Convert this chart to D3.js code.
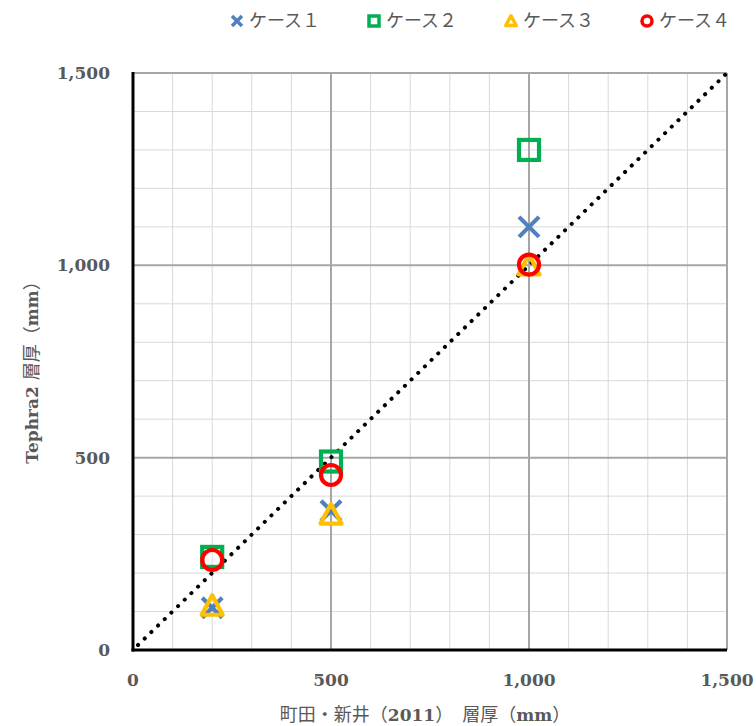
<!DOCTYPE html>
<html><head><meta charset="utf-8">
<script src="https://cdn.jsdelivr.net/npm/d3@7"></script>
<style>body{margin:0;background:#fff}</style>
</head><body>
<svg id="c" width="756" height="726"></svg>
<script>
const seriesNames = ["ケース１","ケース２","ケース３","ケース４"];
const seriesColors = ["#4F81BD","#00B050","#FFC000","#FF0000"];
const seriesShapes = ["cross","square","triangle","circle"];
const xValues = [200, 500, 1000];
const case1 = [110, 362, 1100];
const case2 = [242, 490, 1300];
const case3 = [115, 352, 1000];
const case4 = [234, 455, 1002];
const seriesValues = [case1, case2, case3, case4];
const tickValues = [0, 500, 1000, 1500];
const minorTicks = d3.range(0, 1501, 100);
const lineX = [0, 1500];

const svg = d3.select("#c");
const L=133, R=727, T=73, B=650;
const x = d3.scaleLinear().domain([0,1500]).range([L,R]);
const y = d3.scaleLinear().domain([0,1500]).range([B,T]);
const fmt = d3.format(",");

svg.append("g").selectAll("line").data(minorTicks.filter(v=>v%500!==0)).join("line")
  .attr("x1",d=>x(d)).attr("x2",d=>x(d)).attr("y1",T).attr("y2",B)
  .attr("stroke","#D9D9D9").attr("stroke-width",1);
svg.append("g").selectAll("line").data(minorTicks.filter(v=>v%500!==0)).join("line")
  .attr("y1",d=>y(d)).attr("y2",d=>y(d)).attr("x1",L).attr("x2",R)
  .attr("stroke","#D9D9D9").attr("stroke-width",1);
svg.append("g").selectAll("line").data(tickValues.filter(v=>v>0)).join("line")
  .attr("x1",d=>x(d)).attr("x2",d=>x(d)).attr("y1",T).attr("y2",B)
  .attr("stroke","#A6A6A6").attr("stroke-width",2);
svg.append("g").selectAll("line").data(tickValues.filter(v=>v>0)).join("line")
  .attr("y1",d=>y(d)).attr("y2",d=>y(d)).attr("x1",L).attr("x2",R)
  .attr("stroke","#A6A6A6").attr("stroke-width",2);
svg.append("line").attr("x1",L).attr("x2",L).attr("y1",T-1).attr("y2",B+1.5).attr("stroke","#000").attr("stroke-width",3);
svg.append("line").attr("x1",L-1.5).attr("x2",R).attr("y1",B).attr("y2",B).attr("stroke","#000").attr("stroke-width",3);

const tickFont = "'DejaVu Serif', serif";
svg.append("g").selectAll("text").data(tickValues).join("text")
  .attr("x",110).attr("y",d=>y(d)+6).attr("text-anchor","end")
  .attr("font-family",tickFont).attr("font-weight","bold").attr("font-size",17)
  .attr("fill","#595959").text(d=>fmt(d));
svg.append("g").selectAll("text").data(tickValues).join("text")
  .attr("x",d=>x(d)).attr("y",686).attr("text-anchor","middle")
  .attr("font-family",tickFont).attr("font-weight","bold").attr("font-size",17)
  .attr("fill","#595959").text(d=>fmt(d));

svg.append("line").attr("x1",x(lineX[0])+5).attr("y1",y(lineX[0])-5).attr("x2",x(lineX[1])).attr("y2",y(lineX[1]))
  .attr("stroke","#000").attr("stroke-width",4).attr("stroke-linecap","round")
  .attr("stroke-dasharray","0.1 9.2");

function drawMarker(g, shape, color, cx, cy, s, sw){
  if(shape==="cross"){
    g.append("path").attr("d",`M${cx-s},${cy-s}L${cx+s},${cy+s}M${cx-s},${cy+s}L${cx+s},${cy-s}`)
      .attr("stroke",color).attr("stroke-width",sw).attr("fill","none");
  } else if(shape==="square"){
    g.append("rect").attr("x",cx-s).attr("y",cy-s).attr("width",2*s).attr("height",2*s)
      .attr("stroke",color).attr("stroke-width",sw).attr("fill","none");
  } else if(shape==="triangle"){
    g.append("path").attr("d",`M${cx},${cy-s*1.05}L${cx+s*1.05},${cy+s*0.9}L${cx-s*1.05},${cy+s*0.9}Z`)
      .attr("stroke",color).attr("stroke-width",sw).attr("fill","none").attr("stroke-linejoin","round");
  } else {
    g.append("circle").attr("cx",cx).attr("cy",cy).attr("r",s)
      .attr("stroke",color).attr("stroke-width",sw).attr("fill","none");
  }
}
const mg = svg.append("g");
seriesValues.forEach((vals,i)=>{
  vals.forEach((v,j)=>drawMarker(mg, seriesShapes[i], seriesColors[i], x(xValues[j]), y(v), 10, 4.2));
});

const legX = [237, 374, 511, 647];
seriesNames.forEach((n,i)=>{
  const lg = svg.append("g");
  drawMarker(lg, seriesShapes[i], seriesColors[i], legX[i], 21, 5, 3.5);
  lg.append("text").attr("x",legX[i]+12).attr("y",27).attr("font-family","'Noto Sans CJK JP', sans-serif")
    .attr("font-size",18).attr("fill","#595959").text(n);
});

const jp = "'Noto Sans CJK JP', sans-serif";
const xt = svg.append("text").attr("x",425).attr("y",721).attr("text-anchor","middle").attr("font-size",18).attr("fill","#595959").attr("font-family",jp);
xt.append("tspan").text("町田・新井（");
xt.append("tspan").attr("font-family",tickFont).attr("font-weight","bold").attr("font-size",17).text("2011");
xt.append("tspan").text("）　層厚（");
xt.append("tspan").attr("font-family",tickFont).attr("font-weight","bold").attr("font-size",17).text("mm");
xt.append("tspan").text("）");

const yt = svg.append("text").attr("transform","translate(38,368) rotate(-90)").attr("text-anchor","middle").attr("font-size",18).attr("fill","#595959").attr("font-family",jp);
yt.append("tspan").attr("font-family",tickFont).attr("font-weight","bold").attr("font-size",17).text("Tephra2 ");
yt.append("tspan").text("層厚（");
yt.append("tspan").attr("font-family",tickFont).attr("font-weight","bold").attr("font-size",17).text("mm");
yt.append("tspan").text("）");
</script>
</body></html>
